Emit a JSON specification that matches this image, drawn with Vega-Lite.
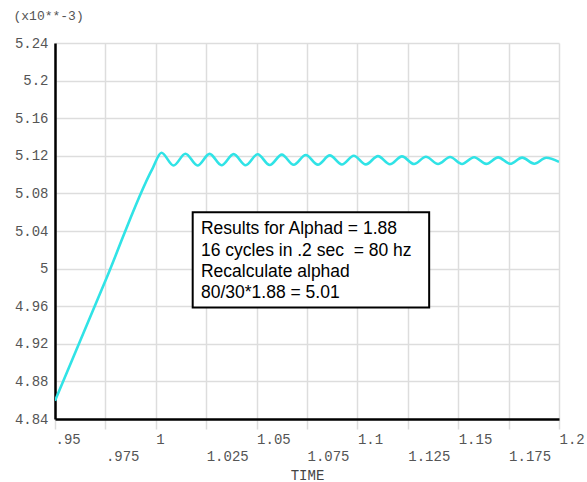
{
  "$schema": "https://vega.github.io/schema/vega-lite/v6.json",
  "autosize": "none",
  "width": 504,
  "height": 376,
  "padding": {"left": 55, "top": 43, "right": 28, "bottom": 63},
  "background": "white",
  "config": {"view": {"stroke": null}},
  "datasets": {
    "series": [
      {"time": 0.95, "value": 4.8594},
      {"time": 0.975, "value": 4.987},
      {"time": 0.9985, "value": 5.107},
      {"time": 1.0028, "value": 5.1232},
      {"time": 1.0088, "value": 5.1097},
      {"time": 1.0147, "value": 5.1222},
      {"time": 1.0207, "value": 5.1097},
      {"time": 1.0267, "value": 5.1220},
      {"time": 1.0326, "value": 5.1099},
      {"time": 1.0386, "value": 5.1218},
      {"time": 1.0446, "value": 5.1100},
      {"time": 1.0505, "value": 5.1216},
      {"time": 1.0565, "value": 5.1102},
      {"time": 1.0625, "value": 5.1212},
      {"time": 1.0684, "value": 5.1104},
      {"time": 1.0744, "value": 5.1208},
      {"time": 1.0804, "value": 5.1106},
      {"time": 1.0863, "value": 5.1204},
      {"time": 1.0923, "value": 5.1108},
      {"time": 1.0982, "value": 5.1200},
      {"time": 1.1042, "value": 5.1109},
      {"time": 1.1102, "value": 5.1197},
      {"time": 1.1161, "value": 5.1110},
      {"time": 1.1221, "value": 5.1194},
      {"time": 1.1281, "value": 5.1112},
      {"time": 1.1340, "value": 5.1190},
      {"time": 1.1400, "value": 5.1113},
      {"time": 1.1460, "value": 5.1187},
      {"time": 1.1519, "value": 5.1113},
      {"time": 1.1579, "value": 5.1185},
      {"time": 1.1639, "value": 5.1114},
      {"time": 1.1698, "value": 5.1183},
      {"time": 1.1758, "value": 5.1115},
      {"time": 1.1817, "value": 5.1181},
      {"time": 1.1877, "value": 5.1116},
      {"time": 1.1937, "value": 5.1179},
      {"time": 1.2, "value": 5.1135}
    ],
    "box": [
      {"x1": 1.0183, "x2": 1.1356, "y1": 5.0599, "y2": 4.9587}
    ],
    "notes": [
      {"x": 1.0224, "y": 5.0426, "text": "Results for Alphad = 1.88"},
      {"x": 1.0224, "y": 5.0186, "text": "16 cycles in .2 sec \u00a0= 80 hz"},
      {"x": 1.0224, "y": 4.9966, "text": "Recalculate alphad"},
      {"x": 1.0224, "y": 4.9740, "text": "80/30*1.88 = 5.01"}
    ]
  },
  "layer": [
    {
      "data": {"name": "series"},
      "mark": {"type": "line", "color": "#30e3e6", "strokeWidth": 2.6, "interpolate": "monotone", "clip": true},
      "encoding": {
        "x": {
          "field": "time", "type": "quantitative",
          "scale": {"domain": [0.95, 1.2], "nice": false, "zero": false},
          "axis": {
            "title": "TIME",
            "values": [0.95, 0.975, 1, 1.025, 1.05, 1.075, 1.1, 1.125, 1.15, 1.175, 1.2],
            "tickCount": 30,
            "labelExpr": "(round(datum.value*1000) % 50 == 0) ? replace(format(datum.value, '.3~f'), '0.', '.') : ['', replace(format(datum.value, '.3~f'), '0.', '.')]",
            "labelAlign": "left",
            "labelBaseline": "top",
            "labelLineHeight": 17,
            "labelPadding": 3,
            "labelOverlap": false,
            "labelFlush": false,
            "labelFont": "Liberation Mono",
            "labelFontSize": 14,
            "labelColor": "#555555",
            "tickColor": "#dddddd",
            "tickWidth": 1.5,
            "tickSize": 10,
            "grid": true,
            "gridColor": "#dddddd",
            "gridWidth": 1.5,
            "domainColor": "#000000",
            "domainWidth": 2.5,
            "titleFont": "Liberation Mono",
            "titleFontSize": 14,
            "titleFontWeight": "normal",
            "titleColor": "#444444",
            "titlePadding": 5
          }
        },
        "y": {
          "field": "value", "type": "quantitative",
          "scale": {"domain": [4.84, 5.24], "nice": false, "zero": false},
          "axis": {
            "title": "(x10**-3)",
            "titleAngle": 0,
            "titleAlign": "left",
            "titleBaseline": "middle",
            "titleX": -42,
            "titleY": -28,
            "titleFont": "Liberation Mono",
            "titleFontSize": 13,
            "titleFontWeight": "normal",
            "titleColor": "#555555",
            "values": [4.84, 4.88, 4.92, 4.96, 5.0, 5.04, 5.08, 5.12, 5.16, 5.2, 5.24],
            "tickCount": 30,
            "format": ".2~f",
            "labelFont": "Liberation Mono",
            "labelFontSize": 14,
            "labelColor": "#555555",
            "labelPadding": 7,
            "labelOverlap": false,
            "labelFlush": false,
            "ticks": false,
            "grid": true,
            "gridColor": "#dddddd",
            "gridWidth": 1.5,
            "domainColor": "#000000",
            "domainWidth": 2.5
          }
        }
      }
    },
    {
      "data": {"name": "box"},
      "mark": {"type": "rect", "fill": "white", "stroke": "#000000", "strokeWidth": 2},
      "encoding": {
        "x": {"field": "x1", "type": "quantitative"},
        "x2": {"field": "x2"},
        "y": {"field": "y1", "type": "quantitative"},
        "y2": {"field": "y2"}
      }
    },
    {
      "data": {"name": "notes"},
      "mark": {"type": "text", "align": "left", "baseline": "middle", "font": "Liberation Sans", "fontSize": 17.5, "color": "#000000"},
      "encoding": {
        "x": {"field": "x", "type": "quantitative"},
        "y": {"field": "y", "type": "quantitative"},
        "text": {"field": "text"}
      }
    }
  ]
}
